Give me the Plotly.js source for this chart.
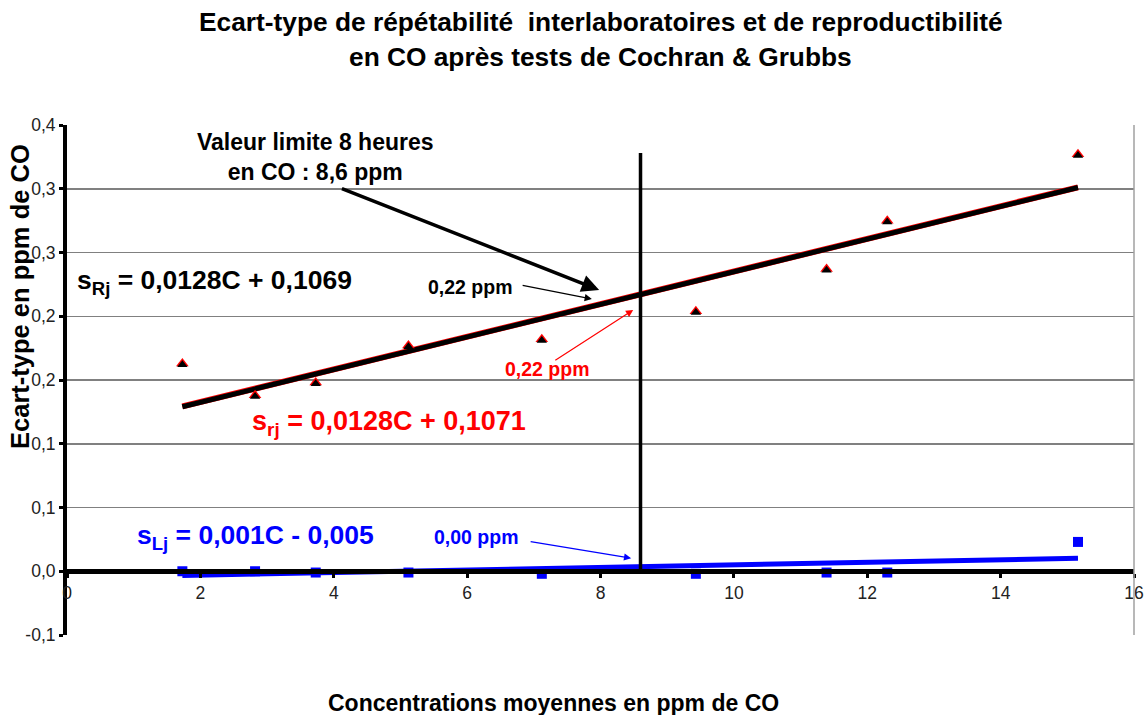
<!DOCTYPE html>
<html>
<head>
<meta charset="utf-8">
<script src="https://cdn.plot.ly/plotly-3.0.1.min.js"></script>
<style>
  html, body { margin: 0; padding: 0; background: #fff; }
  #chart { width: 1148px; height: 715px; }
</style>
</head>
<body>
<div id="chart"></div>
<script>
// Mean CO concentrations (ppm)
const conc = [1.73, 2.82, 3.73, 5.12, 7.12, 9.43, 11.39, 12.30, 15.16];
// reproducibility s_Rj, repeatability s_rj, interlab s_Lj
const sR = [0.162, 0.137, 0.147, 0.176, 0.181, 0.203, 0.236, 0.274, 0.326];
const sr = [0.163, 0.138, 0.148, 0.177, 0.182, 0.204, 0.237, 0.275, 0.327];
const sL = [0.000, 0.000, -0.001, -0.001, -0.002, -0.002, -0.001, -0.001, 0.023];

// trend line coefficients [slope, intercept]
const fitR = [0.0128, 0.1069];
const fitr = [0.0128, 0.1071];
const fitL = [0.001, -0.005];

const limitCO = 8.6;
const limitTop = 0.328;

const yTicks = [-0.05, 0, 0.05, 0.1, 0.15, 0.2, 0.25, 0.3, 0.35];
const yLabels = ['-0,1', '0,0', '0,1', '0,1', '0,2', '0,2', '0,3', '0,3', '0,4'];

const FONT = 'Arial, "Liberation Sans", sans-serif';

function trend(fit) {
  const xs = [Math.min(...conc), Math.max(...conc)];
  return { x: xs, y: xs.map(c => fit[0] * c + fit[1]) };
}

const tR = trend(fitR), tr = trend(fitr), tL = trend(fitL);

const traces = [
  { x: tr.x, y: tr.y, mode: 'lines', line: { color: '#ff0000', width: 6 }, name: 'tr' },
  { x: tR.x, y: tR.y, mode: 'lines', line: { color: '#000000', width: 5 }, name: 'tR' },
  { x: tL.x, y: tL.y, mode: 'lines', line: { color: '#0000ff', width: 5 }, name: 'tL' },
  { x: conc, y: sr, mode: 'markers', marker: { symbol: 'triangle-up', color: '#ff0000', size: 11 }, name: 's_rj' },
  { x: conc, y: sR, mode: 'markers', marker: { symbol: 'triangle-up', color: '#000000', size: 9 }, name: 's_Rj' },
  { x: conc, y: sL, mode: 'markers', marker: { symbol: 'square', color: '#0000ff', size: 10 }, name: 's_Lj' }
];

const layout = {
  width: 1148,
  height: 715,
  margin: { l: 67, r: 14, t: 125, b: 80 },
  paper_bgcolor: '#ffffff',
  plot_bgcolor: '#ffffff',
  showlegend: false,
  font: { family: FONT, color: '#000' },
  xaxis: {
    range: [0, 16],
    dtick: 2,
    anchor: 'free',
    position: 0.125,
    showline: true,
    linecolor: '#000',
    linewidth: 5,
    ticks: 'outside',
    ticklen: 4,
    tickwidth: 3,
    tickcolor: '#000',
    showgrid: false,
    zeroline: false,
    tickfont: { family: FONT, size: 17.5, color: '#222' }
  },
  yaxis: {
    range: [-0.05, 0.35],
    tickvals: yTicks,
    ticktext: yLabels,
    showline: true,
    linecolor: '#000',
    linewidth: 4,
    ticks: 'outside',
    ticklen: 4,
    tickwidth: 3,
    tickcolor: '#000',
    showgrid: true,
    gridcolor: '#808080',
    gridwidth: 1.5,
    zeroline: false,
    tickfont: { family: FONT, size: 17.5, color: '#222' }
  },
  shapes: [
    { type: 'line', xref: 'paper', yref: 'paper', x0: 1, x1: 1, y0: 0, y1: 1,
      line: { color: '#a0a0a0', width: 1.5 } },
    { type: 'line', xref: 'x', yref: 'y', x0: limitCO, x1: limitCO, y0: 0, y1: limitTop,
      line: { color: '#000', width: 3.5 } }
  ],
  annotations: [
    // titles
    { xref: 'paper', yref: 'paper', x: 0.5, y: 1.202, xanchor: 'center', yanchor: 'middle', showarrow: false,
      text: '<b>Ecart-type de répétabilité  interlaboratoires et de reproductibilité</b>',
      font: { size: 26.3, color: '#000' } },
    { xref: 'paper', yref: 'paper', x: 0.5, y: 1.133, xanchor: 'center', yanchor: 'middle', showarrow: false,
      text: '<b>en CO après tests de Cochran &amp; Grubbs</b>',
      font: { size: 26.3, color: '#000' } },
    { xref: 'paper', yref: 'paper', x: -0.044, y: 0.663, xanchor: 'center', yanchor: 'middle',
      showarrow: false, textangle: -90,
      text: '<b>Ecart-type en ppm de CO</b>', font: { size: 25.5, color: '#000' } },
    { xref: 'paper', yref: 'paper', x: 0.4555, y: -0.133, xanchor: 'center', yanchor: 'middle', showarrow: false,
      text: '<b>Concentrations moyennes en ppm de CO</b>', font: { size: 23, color: '#000' } },

    // limit value label and arrow
    { x: 3.73, y: 0.325, showarrow: false,
      text: '<b>Valeur limite 8 heures<br>en CO : 8,6 ppm</b>', font: { size: 23, color: '#000' } },
    { x: 7.98, y: 0.2206, ax: 4.10, ay: 0.3006, axref: 'x', ayref: 'y', text: '',
      showarrow: true, arrowhead: 2, arrowsize: 1, arrowwidth: 3.5, arrowcolor: '#000' },

    // equations
    { x: 0.12, y: 0.2268, xanchor: 'left', showarrow: false,
      text: '<b>s<sub>Rj</sub> = 0,0128C + 0,1069</b>', font: { size: 26.5, color: '#000' } },
    { x: 2.75, y: 0.1162, xanchor: 'left', showarrow: false,
      text: '<b>s<sub>rj</sub> = 0,0128C + 0,1071</b>', font: { size: 27, color: '#ff0000' } },
    { x: 1.02, y: 0.0267, xanchor: 'left', showarrow: false,
      text: '<b>s<sub>Lj</sub> = 0,001C - 0,005</b>', font: { size: 26.5, color: '#0000ff' } },

    // value labels at 8.6 ppm
    { x: 6.05, y: 0.2229, showarrow: false, text: '<b>0,22 ppm</b>', font: { size: 19.5, color: '#000' } },
    { x: 7.87, y: 0.2135, ax: 6.81, ay: 0.2245, axref: 'x', ayref: 'y', text: '',
      showarrow: true, arrowhead: 2, arrowsize: 1.2, arrowwidth: 1.2, arrowcolor: '#000' },
    { x: 7.20, y: 0.1586, showarrow: false, text: '<b>0,22 ppm</b>', font: { size: 19.5, color: '#ff0000' } },
    { x: 8.49, y: 0.2049, ax: 7.30, ay: 0.1648, axref: 'x', ayref: 'y', text: '',
      showarrow: true, arrowhead: 2, arrowsize: 1.2, arrowwidth: 1.2, arrowcolor: '#ff0000' },
    { x: 6.14, y: 0.0267, showarrow: false, text: '<b>0,00 ppm</b>', font: { size: 19.5, color: '#0000ff' } },
    { x: 8.46, y: 0.0102, ax: 6.93, ay: 0.0235, axref: 'x', ayref: 'y', text: '',
      showarrow: true, arrowhead: 2, arrowsize: 1.2, arrowwidth: 1.2, arrowcolor: '#0000ff' }
  ]
};

Plotly.newPlot('chart', traces, layout, { displayModeBar: false, staticPlot: true });
</script>
</body>
</html>
